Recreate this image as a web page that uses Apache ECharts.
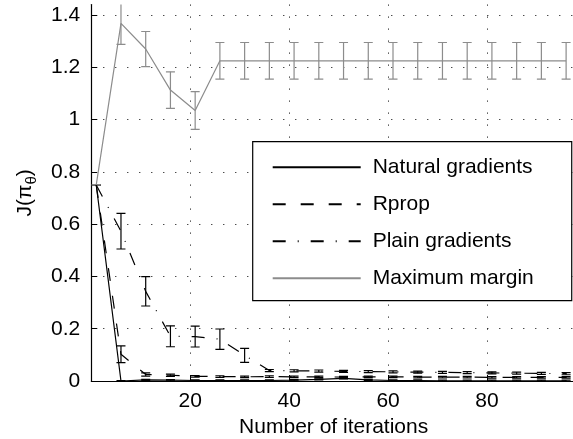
<!DOCTYPE html>
<html><head><meta charset="utf-8">
<script src="https://cdn.jsdelivr.net/npm/echarts@6/dist/echarts.min.js"></script>
<style>html,body{margin:0;padding:0;background:#fff}#c{width:573px;height:439px}</style>
</head><body><div id="c"></div>
<script>
const iterations = [1,6,11,16,21,26,31,36,41,46,51,56,61,66,71,76,81,86,91,96];
const xTicks = [20,40,60,80];
const naturalMean = [0.75,0,0.004,0.003,0.002,0.002,0.002,0.002,0.003,0.006,0.01,0.004,0.002,0.002,0.001,0.001,0.001,0.001,0.001,0.001];
const naturalErr  = [0,0.002,0.002,0.002,0.002,0.002,0.002,0.002,0.002,0.002,0.002,0.002,0.002,0.002,0.002,0.002,0.002,0.002,0.002,0.002];
const rpropMean = [0.75,0.102,0.025,0.022,0.018,0.017,0.016,0.017,0.016,0.016,0.015,0.016,0.016,0.015,0.015,0.015,0.014,0.014,0.014,0.014];
const rpropErr  = [0,0.032,0.006,0.004,0.003,0.003,0.003,0.003,0.003,0.003,0.003,0.003,0.003,0.003,0.003,0.003,0.003,0.003,0.003,0.003];
const plainMean = [0.75,0.573,0.343,0.171,0.17,0.16,0.098,0.04,0.039,0.038,0.037,0.036,0.035,0.034,0.033,0.032,0.031,0.03,0.029,0.028];
const plainErr  = [0,0.068,0.056,0.04,0.04,0.039,0.027,0.004,0.004,0.004,0.004,0.004,0.004,0.004,0.004,0.004,0.004,0.004,0.004,0.004];
const marginMean = [0.75,1.368,1.27,1.113,1.035,1.225,1.225,1.225,1.225,1.225,1.225,1.225,1.225,1.225,1.225,1.225,1.225,1.225,1.225,1.225];
const marginErr  = [0,0.08,0.067,0.07,0.072,0.07,0.07,0.07,0.07,0.07,0.07,0.07,0.07,0.07,0.07,0.07,0.07,0.07,0.07,0.07];
const names = ['Natural gradients','Rprop','Plain gradients','Maximum margin'];

const FONT = 'Liberation Sans, Arial, Helvetica, sans-serif';
const GREY = '#8c8c8c';

function pairs(mean){ return iterations.map((x,i)=>[x, mean[i]]); }
function triples(mean, err){ return iterations.map((x,i)=>[x, mean[i], err[i]]); }
function errRender(color){
  return function(params, api){
    const x = api.value(0), m = api.value(1), e = api.value(2);
    const top = api.coord([x, m+e]), bot = api.coord([x, m-e]);
    const hw = 4.5;
    const style = {stroke: color, lineWidth: 1.2, fill: null};
    return {type:'group', children:[
      {type:'line', shape:{x1:top[0],y1:top[1],x2:bot[0],y2:bot[1]}, style},
      {type:'line', shape:{x1:top[0]-hw,y1:top[1],x2:top[0]+hw,y2:top[1]}, style},
      {type:'line', shape:{x1:bot[0]-hw,y1:bot[1],x2:bot[0]+hw,y2:bot[1]}, style}
    ]};
  };
}
function lineSeries(name, mean, color, type){
  return {name, type:'line', data: pairs(mean), symbol:'none', clip:true,
    lineStyle:{color, width:1.2, type}, itemStyle:{color}, animation:false, z:3};
}
function errSeries(mean, err, color){
  return {type:'custom', data: triples(mean, err), renderItem: errRender(color), clip:true, animation:false, z:2, silent:true};
}

const chart = echarts.init(document.getElementById('c'));
chart.setOption({
  animation:false,
  grid:{left:91.3, right:-3, top:4.6, bottom:58, containLabel:false, outerBoundsMode:'none'},
  legend:{
    data: names, orient:'vertical', left:252.7, top:141.7,
    backgroundColor:'#fff', borderColor:'#000', borderWidth:1.2,
    padding:[15,38,12,19], itemWidth:88, itemHeight:14, itemGap:16,
    itemStyle:{opacity:0},
    textStyle:{fontFamily:FONT, fontSize:21, color:'#000', padding:[0,0,0,7], lineHeight:21},
    selectedMode:false
  },
  xAxis:{
    type:'value', min:0, max:98, interval:20,
    name:'Number of iterations', nameLocation:'middle', nameGap:33,
    nameTextStyle:{fontFamily:FONT, fontSize:21, color:'#000'},
    axisLine:{show:true, onZero:false, lineStyle:{color:'#000', width:1.2}},
    axisTick:{show:true, inside:true, length:6, lineStyle:{color:'#000'}},
    axisLabel:{fontFamily:FONT, fontSize:21, color:'#000', margin:10, showMinLabel:false, showMaxLabel:false,
      formatter: v => xTicks.includes(v) ? String(v) : ''},
    splitLine:{show:true, showMinLine:false, showMaxLine:false, lineStyle:{color:'#000', width:1, type:[1,11]}}
  },
  yAxis:{
    type:'value', min:0, max:1.44, interval:0.2,
    name:'{a|J(π}{s|θ}{a|)}', nameLocation:'middle', nameGap:52, nameRotate:90,
    nameTextStyle:{rich:{
      a:{fontFamily:FONT, fontSize:21, color:'#000'},
      s:{fontFamily:FONT, fontSize:15, color:'#000', verticalAlign:'bottom', padding:[14,0,0,0]}
    }},
    axisLine:{show:true, lineStyle:{color:'#000', width:1.2}},
    axisTick:{show:true, inside:true, length:6, lineStyle:{color:'#000'}},
    axisLabel:{fontFamily:FONT, fontSize:21, color:'#000', margin:11, showMaxLabel:false,
      formatter: v => (Math.round(v*10)/10).toString()},
    splitLine:{show:true, showMinLine:false, showMaxLine:false, lineStyle:{color:'#000', width:1, type:[1,11]}}
  },
  series:[
    errSeries(naturalMean, naturalErr, '#000'),
    errSeries(rpropMean, rpropErr, '#000'),
    errSeries(plainMean, plainErr, '#000'),
    errSeries(marginMean, marginErr, GREY),
    lineSeries(names[0], naturalMean, '#000', 'solid'),
    lineSeries(names[1], rpropMean, '#000', [13,15]),
    lineSeries(names[2], plainMean, '#000', [13,12,1,12]),
    lineSeries(names[3], marginMean, GREY, 'solid')
  ]
});
</script></body></html>
